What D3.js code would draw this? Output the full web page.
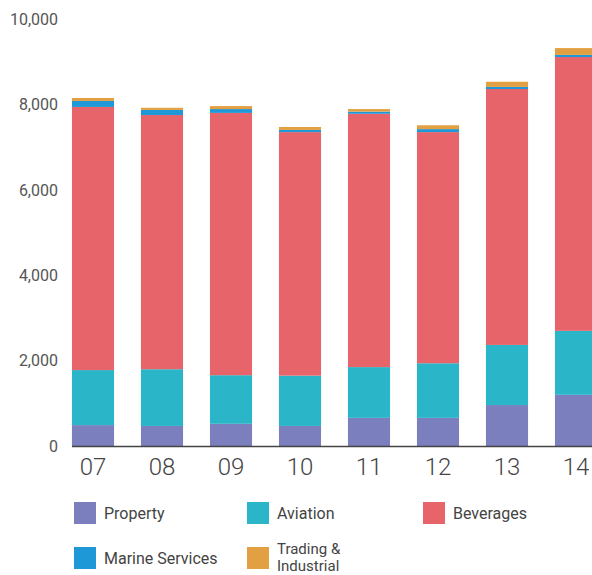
<!DOCTYPE html>
<html>
<head>
<meta charset="utf-8">
<script src="https://cdn.jsdelivr.net/npm/d3@7"></script>
<style>
  body { margin: 0; background: #fff; }
  text { font-family: Roboto, "DejaVu Sans", sans-serif; }
</style>
</head>
<body>
<div id="graph"></div>
<script>
// years on the x axis
var years = ["07", "08", "09", "10", "11", "12", "13", "14"];
var segments = ["Property", "Aviation", "Beverages", "Marine Services", "Trading & Industrial"];

// values per segment
var property   = [490, 470, 520, 470, 660, 660, 960, 1200];
var aviation   = [1290, 1330, 1140, 1180, 1190, 1280, 1410, 1500];
var beverages  = [6170, 5960, 6150, 5710, 5940, 5420, 6000, 6420];
var marine     = [140, 120, 90, 50, 50, 70, 50, 50];
var trading    = [70, 50, 70, 70, 60, 90, 120, 160];

var yTicks = [0, 2000, 4000, 6000, 8000, 10000];
var colors = ["#7b7fbd", "#2bb5c8", "#e6646a", "#1e98d6", "#e3a043"];

var width = 592, height = 575;

var svg = d3.select("#graph")
  .append("svg")
  .attr("width", width)
  .attr("height", height);

var rows = years.map(function(yr, i){
  return {year: yr, "Property": property[i], "Aviation": aviation[i], "Beverages": beverages[i],
          "Marine Services": marine[i], "Trading & Industrial": trading[i]};
});

var stack = d3.stack().keys(segments);
var series = stack(rows);

var x = d3.scaleBand().domain(years).range([58.5, 610.5]).paddingInner(0.39).paddingOuter(0.195);
var y = d3.scaleLinear().domain([0, 10000]).range([446, 19.5]);
var color = d3.scaleOrdinal().domain(segments).range(colors);

// bars
svg.selectAll(".layer")
  .data(series)
  .enter()
  .append("g")
  .attr("class", "layer")
  .attr("fill", function(d){ return color(d.key) })
  .selectAll("rect")
  .data(function(d){ return d })
  .enter()
  .append("rect")
  .attr("x", function(d){ return x(d.data.year) })
  .attr("width", x.bandwidth())
  .attr("y", function(d){ return y(d[1]) })
  .attr("height", function(d){ return y(d[0]) - y(d[1]) });

// y axis labels (no line)
var yAxis = d3.axisLeft(y).tickValues(yTicks).tickSize(0).tickPadding(0)
  .tickFormat(d3.format(","));
var gy = svg.append("g")
  .attr("transform", "translate(58,0)")
  .call(yAxis);
gy.select(".domain").remove();
gy.selectAll("text")
  .attr("font-size", "16px")
  .attr("fill", "#555")
  .style("font-family", "Roboto, sans-serif");

// baseline
svg.append("line")
  .attr("x1", x(years[0]))
  .attr("x2", width)
  .attr("y1", y(0) + 0.5)
  .attr("y2", y(0) + 0.5)
  .attr("stroke", "#444")
  .attr("stroke-width", 1.5);

// x axis labels
var xAxis = d3.axisBottom(x).tickSize(0).tickPadding(0);
var gx = svg.append("g")
  .attr("transform", "translate(0,456)")
  .call(xAxis);
gx.select(".domain").remove();
gx.selectAll("text")
  .attr("font-size", "24px")
  .attr("font-weight", 300)
  .attr("fill", "#444")
  .attr("dy", "0.8em")
  .style("font-family", "Roboto, sans-serif");

// legend
var legendPos = [
  {x: 74, y: 502}, {x: 247, y: 502}, {x: 423, y: 502},
  {x: 74, y: 547}, {x: 247, y: 547}
];
var legend = svg.selectAll(".legend")
  .data(segments)
  .enter()
  .append("g")
  .attr("class", "legend")
  .attr("transform", function(d, i){ return "translate(" + legendPos[i].x + "," + legendPos[i].y + ")" });

legend.append("rect")
  .attr("width", 22)
  .attr("height", 22)
  .attr("fill", function(d){ return color(d) });

// long label wraps onto two lines
legend.each(function(d){
  var g = d3.select(this);
  var lines = d === "Trading & Industrial" ? ["Trading &", "Industrial"] : [d];
  var y0 = lines.length > 1 ? 2 : 11;
  lines.forEach(function(line, k){
    g.append("text")
      .attr("x", 30)
      .attr("y", y0 + k * 17)
      .attr("dy", "0.35em")
      .attr("font-size", lines.length > 1 ? "15px" : "16px")
      .attr("fill", "#444")
      .text(line);
  });
});
</script>
</body>
</html>
